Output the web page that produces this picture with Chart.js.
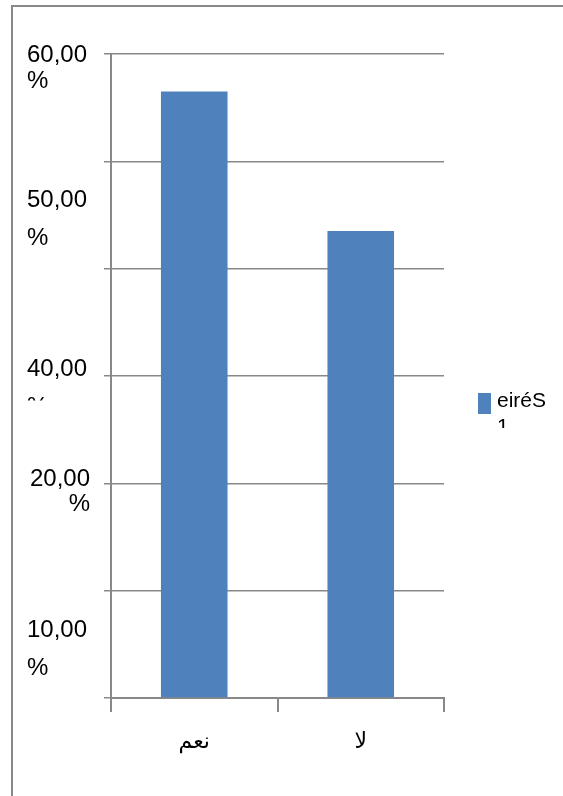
<!DOCTYPE html>
<html>
<head>
<meta charset="utf-8">
<script src="https://cdn.jsdelivr.net/npm/chart.js@4.4.1/dist/chart.umd.min.js"></script>
<style>
  html, body { margin: 0; padding: 0; background: #fff; }
  #wrap { position: relative; width: 563px; height: 796px; }
</style>
</head>
<body>
<div id="wrap"><canvas id="chart" width="563" height="796"></canvas></div>
<script>
// data
const categories = ["نعم", "لا"];
const seriesName = ["eiréS", "1"];
const seriesValues = [56.5, 43.5];
const yTickValues = [60, 50, 40, 20, 10];

const GRAY = "#888888";
const BAR = "#4f81bd";
const FONT = "'Liberation Sans', 'DejaVu Sans', sans-serif";

// outer frame (left + top edges only)
const frame = {
    id: "frame",
    beforeDraw(chart) {
        const c = chart.ctx;
        c.save();
        c.strokeStyle = GRAY;
        c.lineWidth = 2;
        c.beginPath();
        c.moveTo(12, 796);
        c.lineTo(12, 6);
        c.lineTo(563, 6);
        c.stroke();
        c.restore();
    }
};

// y labels are written in two lines ("60,00" then "%")
const yLabels = {
    id: "yLabels",
    afterDraw(chart) {
        const c = chart.ctx;
        const y = chart.scales.y;
        // where each label sits (in axis units) and the gap to its "%" line
        const spots = {
            60: { at: 59.9, gap: 26 },
            50: { at: 46.4, gap: 38 },
            40: { at: 30.6, gap: 38, clip: 31 },
            20: { at: 20.4, gap: 25, right: true },
            10: { at: 6.3, gap: 38 }
        };
        c.save();
        c.fillStyle = "#000";
        c.font = "24px " + FONT;
        c.textBaseline = "middle";
        yTickValues.forEach(v => {
            const s = spots[v];
            const py = y.getPixelForValue(s.at);
            const txt = v.toFixed(2).replace(".", ",");
            c.save();
            if (s.clip) {
                c.beginPath();
                c.rect(0, py - 20, 110, s.clip + 20);
                c.clip();
            }
            if (s.right) {
                c.textAlign = "right";
                c.fillText(txt, 90, py);
                c.fillText("%", 90, py + s.gap);
            } else {
                c.textAlign = "left";
                c.fillText(txt, 27, py);
                c.fillText("%", 27, py + s.gap);
            }
            c.restore();
        });
        c.restore();
    }
};

// legend: tall swatch + label broken over two lines, clipped
const legendBox = {
    id: "legendBox",
    afterDraw(chart) {
        const c = chart.ctx;
        const a = chart.chartArea;
        const x = a.right + 34;
        const top = 393;
        c.save();
        c.fillStyle = chart.data.datasets[0].backgroundColor;
        c.fillRect(x, top, 13, 21);
        c.beginPath();
        c.rect(x + 15, top - 10, 80, 45);
        c.clip();
        c.fillStyle = "#000";
        c.font = "21px " + FONT;
        c.textBaseline = "alphabetic";
        c.textAlign = "left";
        c.fillText(seriesName[0], x + 19, top + 14);
        c.fillText(seriesName[1], x + 19, top + 40);
        c.restore();
    }
};

new Chart(document.getElementById("chart"), {
    type: "bar",
    data: {
        labels: categories,
        datasets: [{
            label: seriesName.join(" "),
            data: seriesValues,
            backgroundColor: BAR,
            categoryPercentage: 1,
            barPercentage: 0.4
        }]
    },
    options: {
        responsive: false,
        animation: false,
        layout: { padding: { top: 54, right: 119, left: 0, bottom: 0 } },
        plugins: { legend: { display: false }, tooltip: { enabled: false } },
        scales: {
            x: {
                grid: { display: true, drawOnChartArea: false, tickLength: 14, color: GRAY, lineWidth: 2, offset: true },
                border: { color: GRAY, width: 2 },
                ticks: { color: "#000", font: { family: FONT, size: 22 }, padding: 17 },
                afterFit: s => { s.height = 98; }
            },
            y: {
                min: 0,
                max: 60,
                ticks: { stepSize: 10, display: false },
                grid: { color: GRAY, lineWidth: 1.5, tickLength: 7 },
                border: { color: GRAY, width: 2 },
                afterFit: s => { s.width = 111; }
            }
        }
    },
    plugins: [frame, yLabels, legendBox]
});
</script>
</body>
</html>
